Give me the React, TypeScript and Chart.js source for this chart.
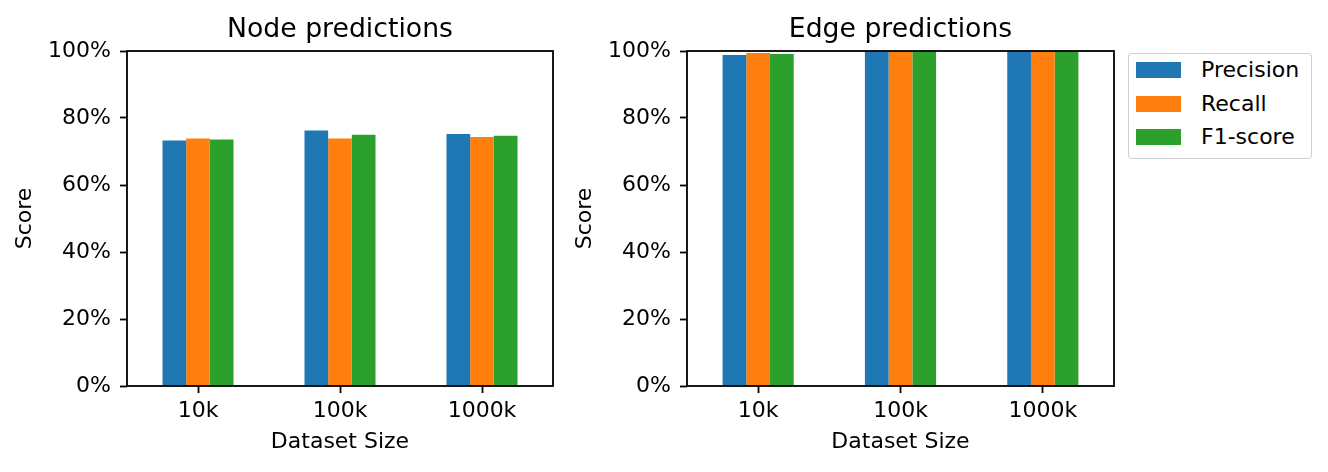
import React, { useEffect, useRef } from 'react';
import { Chart, registerables } from 'chart.js';

Chart.register(...registerables);

const categories = ['10k', '100k', '1000k'];
const seriesNames = ['Precision', 'Recall', 'F1-score'];
const seriesColors = ['#1f77b4', '#ff7f0e', '#2ca02c'];

const nodePrecision = [73.3, 76.3, 75.2];
const nodeRecall = [73.9, 73.9, 74.3];
const nodeF1 = [73.6, 75.0, 74.7];

const edgePrecision = [98.8, 100, 100];
const edgeRecall = [99.4, 100, 100];
const edgeF1 = [99.1, 100, 100];

const yTickValues = [0, 20, 40, 60, 80, 100];

const FONT = "'DejaVu Sans', sans-serif";

const framePlugin = {
  id: 'frameTitle',
  afterDatasetsDraw(chart: any, _args: any, opts: any) {
    const { ctx, chartArea: a } = chart;
    ctx.save();
    ctx.strokeStyle = '#000';
    ctx.lineWidth = 1.8;
    ctx.strokeRect(a.left, a.top, a.right - a.left, a.bottom - a.top);
    ctx.fillStyle = '#000';
    ctx.font = `26.7px ${FONT}`;
    ctx.textAlign = 'center';
    ctx.textBaseline = 'alphabetic';
    ctx.fillText(opts.text, (a.left + a.right) / 2, 37);
    ctx.restore();
  },
};

function makeConfig(title: string, values: number[][], axisWidth: number, rightPad: number, yTitlePad: number): any {
  return {
    type: 'bar',
    data: {
      labels: categories,
      datasets: seriesNames.map((name, i) => ({
        label: name,
        data: values[i],
        backgroundColor: seriesColors[i],
        borderWidth: 0,
        categoryPercentage: 0.5,
        barPercentage: 1.0,
      })),
    },
    options: {
      responsive: false,
      animation: false,
      devicePixelRatio: 1,
      layout: { padding: { top: 51, right: rightPad, left: 0, bottom: 0 } },
      plugins: {
        legend: { display: false },
        tooltip: { enabled: false },
        title: { display: false },
        frameTitle: { text: title },
      },
      scales: {
        x: {
          type: 'category',
          grid: {
            display: true,
            drawOnChartArea: false,
            drawTicks: true,
            tickLength: 7,
            tickWidth: 1.8,
            tickColor: '#000',
            offset: false,
          },
          border: { display: false },
          ticks: { color: '#000', font: { family: FONT, size: 22 }, padding: 5, maxRotation: 0 },
          title: {
            display: true,
            text: 'Dataset Size',
            color: '#000',
            font: { family: FONT, size: 22 },
            padding: { top: 0, bottom: 17 },
          },
          afterFit: (scale: any) => {
            scale.height = 86;
          },
        },
        y: {
          min: 0,
          max: 100,
          afterBuildTicks: (scale: any) => {
            scale.ticks = yTickValues.map((v) => ({ value: v }));
          },
          grid: {
            display: true,
            drawOnChartArea: false,
            drawTicks: true,
            tickLength: 7,
            tickWidth: 1.8,
            tickColor: '#000',
          },
          border: { display: false },
          ticks: {
            color: '#000',
            font: { family: FONT, size: 22 },
            padding: 9,
            callback: (v: any) => `${v}%`,
          },
          title: {
            display: true,
            text: 'Score',
            color: '#000',
            font: { family: FONT, size: 22 },
            padding: { top: yTitlePad, bottom: 0 },
          },
          afterFit: (scale: any) => {
            scale.width = axisWidth;
          },
        },
      },
    },
    plugins: [framePlugin],
  };
}

function BarPanel(props: { left: number; width: number; config: any }) {
  const ref = useRef<HTMLCanvasElement | null>(null);
  useEffect(() => {
    if (!ref.current) return;
    const chart = new Chart(ref.current, props.config);
    return () => chart.destroy();
  }, []);
  return (
    <canvas
      ref={ref}
      width={props.width}
      height={472}
      style={{ position: 'absolute', left: props.left, top: 0, width: props.width, height: 472 }}
    />
  );
}

const legendRowCenters = [71, 104.5, 138];

export default function App() {
  const nodeCfg = makeConfig('Node predictions', [nodePrecision, nodeRecall, nodeF1], 127, 13, 12);
  const edgeCfg = makeConfig('Edge predictions', [edgePrecision, edgeRecall, edgeF1], 121, 14, 6);
  return (
    <div
      style={{
        position: 'fixed',
        left: 0,
        top: 0,
        width: 1328,
        height: 472,
        background: '#fff',
        overflow: 'hidden',
        fontFamily: FONT,
      }}
    >
      <BarPanel left={0} width={566} config={nodeCfg} />
      <BarPanel left={566} width={562} config={edgeCfg} />
      <div
        style={{
          position: 'absolute',
          left: 1128,
          top: 53,
          width: 184,
          height: 106,
          border: '1.8px solid rgba(204,204,204,0.9)',
          borderRadius: 4,
          boxSizing: 'border-box',
          background: '#fff',
        }}
      >
        {seriesNames.map((name, i) => (
          <React.Fragment key={name}>
            <div
              style={{
                position: 'absolute',
                left: 7,
                top: legendRowCenters[i] - 53 - 8 - 1.8,
                width: 45,
                height: 16,
                background: seriesColors[i],
              }}
            />
            <div
              style={{
                position: 'absolute',
                left: 72,
                top: legendRowCenters[i] - 53 - 13 - 1.8,
                height: 26,
                lineHeight: '26px',
                fontSize: 22,
                color: '#000',
                whiteSpace: 'nowrap',
              }}
            >
              {name}
            </div>
          </React.Fragment>
        ))}
      </div>
    </div>
  );
}
